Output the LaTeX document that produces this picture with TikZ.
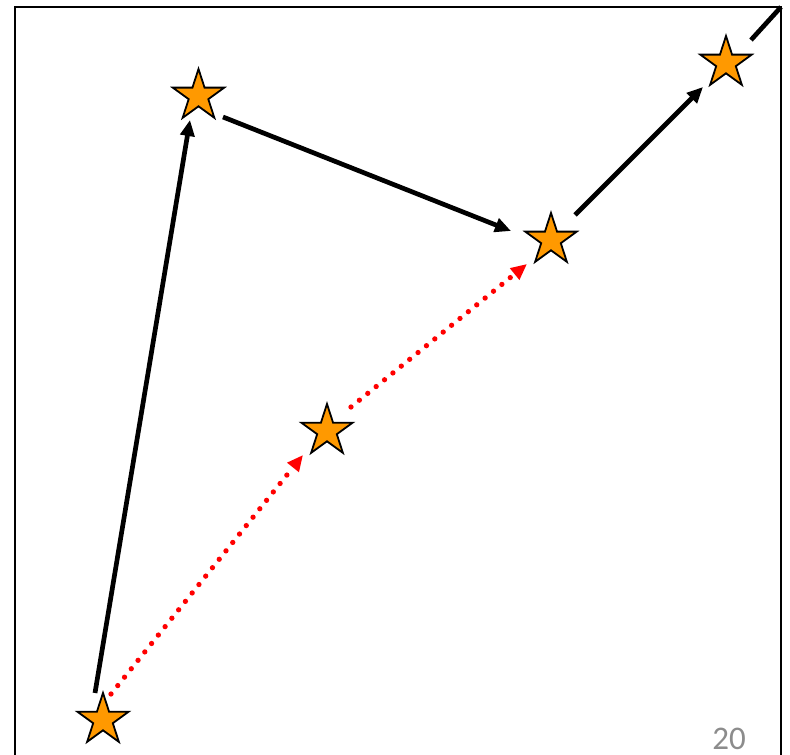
\documentclass[tikz,border=0pt]{standalone}
\usepackage{fontspec}
\newfontfamily\pagefont{Carlito}
\usetikzlibrary{shapes.geometric,arrows.meta}
\definecolor{starfill}{HTML}{FF9900}
\definecolor{pagegray}{HTML}{8C8C8C}
\tikzset{
  starnode/.style={star, star points=5, star point ratio=2.618, minimum size=54pt,
    inner sep=0pt, outer sep=0pt, draw=black, line width=1.8pt, fill=starfill},
  blk/.style={line width=4.7pt, black, -{Triangle[length=16pt,width=14pt]}},
  reddot/.style={line width=5.3pt, red, line cap=round, dash pattern=on 0pt off 10.8pt,
    -{Triangle[length=16pt,width=14pt,line cap=butt]}},
  frameline/.style={line width=2pt, black}
}
\begin{document}
\begin{tikzpicture}[x=1pt,y=1pt]
\useasboundingbox (0,0) rectangle (790,755);
\draw[frameline] (15,-2) -- (15,748) -- (781,748) -- (781,-2);
\node[starnode] (s1) at (198.5,659) {};
\node[starnode] (s2) at (726,692) {};
\node[starnode] (s3) at (551,515) {};
\node[starnode] (s4) at (327,324) {};
\node[starnode] (s5) at (103,35) {};
\coordinate (corner) at (781,748);
\draw[blk] ([shift={(-8,27)}]s5.center) -- ([shift={(-8.5,-24)}]s1.center);
\draw[blk] ([shift={(24.5,-21)}]s1.center) -- ([shift={(-40,9)}]s3.center);
\draw[blk] ([shift={(24,25)}]s3.center) -- ([shift={(-23,-24)}]s2.center);
\draw[line width=4.7pt] ([shift={(25,23)}]s2.center) -- (corner);
\draw[reddot] ([shift={(8,26)}]s5.center) -- ([shift={(-24,-24)}]s4.center);
\draw[reddot] ([shift={(24,24)}]s4.center) -- ([shift={(-24,-24)}]s3.center);
\node[anchor=base, text=pagegray, font=\pagefont\fontsize{33}{36}\selectfont, inner sep=0pt] (pnum) at (729,5) {20};
\end{tikzpicture}
\end{document}
